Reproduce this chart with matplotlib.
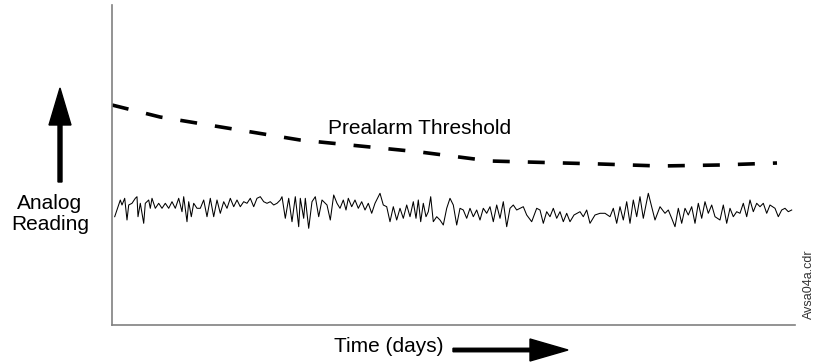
import matplotlib
matplotlib.use("Agg")
import matplotlib.pyplot as plt

plt.rcParams['font.family'] = ['Liberation Sans', 'DejaVu Sans']

# Threshold curve (time, reading) in arbitrary units
umbral_t = [0, 48, 188, 308, 378, 488, 548, 608, 665]
umbral_y = [220, 208, 185, 173, 164, 161, 159, 160, 162]

# Analog reading trace
lectura_t = [2.7, 8.3, 10, 12.7, 15, 16.7, 20, 23.3, 25, 26, 28.3, 31.7, 33.3, 36.7, 38.3, 40,
             43.3, 46.7, 50, 53.3, 56.7, 60, 63.3, 66.7, 70, 71.7, 75, 76.7, 79.3, 81.7, 85, 88.3,
             91.7, 95, 98.3, 101.7, 105, 108.3, 111.7, 115, 118.3, 121.7, 125, 128.3, 131.7, 135,
             138.3, 141.7, 145, 148.3, 151.7, 155, 158.3, 161.7, 165, 168.3, 170, 173.3, 176.7, 180,
             183.3, 186.7, 188.3, 191.7, 193.3, 196.7, 200, 203.3, 206.7, 210, 215, 218.3, 221.7,
             225, 228, 231.3, 234, 236.3, 239.7, 243, 246.3, 249.7, 253, 256.3, 259.7, 263, 268,
             271.3, 274.7, 278, 281.3, 284.7, 288, 291.3, 294.7, 298, 301.3, 304, 306.3, 308.7,
             311.3, 314, 316.3, 318.7, 321.3, 324.7, 328, 331.3, 334.7, 338, 341.3, 344.7, 348,
             351.3, 354.7, 358, 361.3, 364.7, 368, 371.3, 374.7, 378, 381.3, 384.7, 388, 391.3,
             394.7, 398, 401.3, 404.7, 408, 411.3, 414.7, 419.7, 424.7, 428, 431.3, 434.7, 438,
             441.3, 444.7, 448, 451.3, 454.7, 458, 462, 468, 471.3, 474.7, 478, 483, 488, 493, 498,
             501.3, 504.7, 508, 511.3, 514.7, 518, 521.3, 524.7, 528, 531.3, 536.3, 539.7, 543,
             548, 553, 556.3, 559.7, 563, 566.3, 569.7, 573, 576.3, 579.7, 583, 586.3, 589.7, 593,
             596.3, 599.7, 603, 608, 611.3, 614.7, 618, 621.3, 624.7, 628, 631.3, 634.7, 638,
             641.3, 644.7, 648, 651.3, 654.7, 658, 663, 666.3, 669.7, 673, 676.3, 679.7]
lectura_y = [108.3, 125, 120, 126.7, 105, 120, 121.7, 126.7, 128.3, 108.3, 121.7, 101.7, 121.7,
             125, 116.7, 126.7, 116.7, 121.7, 116.7, 121.7, 116.7, 123.3, 116.7, 126.7, 113.3,
             128.3, 103.3, 123.3, 108.3, 121.7, 116.7, 116.7, 125, 108.3, 126.7, 108.3, 125, 111.7,
             123.3, 116.7, 126.7, 118.3, 125, 118.3, 123.3, 121.7, 126.7, 118.3, 126.7, 128.3,
             123.3, 121.7, 123.3, 120, 121.7, 125, 128.3, 106.7, 126.7, 103.3, 128.3, 98.3, 126.7,
             106.7, 126.7, 96.7, 123.3, 128.3, 108.3, 125, 120, 105, 130, 121.7, 116.7, 125, 115,
             126.7, 118.3, 125, 116.7, 123.3, 115, 121.7, 111.7, 121.7, 131.7, 120, 118.3, 103.3,
             118.3, 105, 116.7, 106.7, 120, 108.3, 123.3, 106.7, 125, 103.3, 121.7, 108.3, 113.3,
             128.3, 103.3, 108.3, 105, 100, 116.7, 126.7, 120, 100, 116.7, 115, 106.7, 116.7,
             108.3, 115, 105, 116.7, 111.7, 118.3, 103.3, 120, 106.7, 123.3, 98.3, 116.7, 120, 115,
             116.7, 118.3, 110, 103.3, 116.7, 115, 101.7, 113.3, 108.3, 116.7, 106.7, 113.3, 103.3,
             111.7, 103.3, 110, 113.3, 108.3, 115, 101.7, 110, 111.7, 111.7, 108.3, 116.7, 101.7,
             118.3, 105, 123.3, 101.7, 125, 108.3, 128.3, 106.7, 131.7, 118.3, 105, 118.3, 111.7,
             115, 106.7, 98.3, 116.7, 101.7, 116.7, 110, 118.3, 101.7, 121.7, 106.7, 123.3, 111.7,
             120, 108.3, 105, 120, 101.7, 116.7, 108.3, 113.3, 111.7, 121.7, 108.3, 125, 113.3,
             121.7, 118.3, 121.7, 111.7, 120, 116.7, 108.3, 115, 116.7, 113.3, 115]

fig = plt.figure(figsize=(8.17, 3.64), dpi=100)
ax = fig.add_axes([112 / 817, 39 / 364, 683 / 817, 320 / 364])

ax.plot(umbral_t, umbral_y, color="black", lw=2.6, linestyle=(0, (4.7, 5.0)),
        solid_capstyle="butt", dash_capstyle="butt")
ax.plot(lectura_t, lectura_y, color="black", lw=0.75)
ax.text(308, 197, "Prealarm Threshold", fontsize=15, ha="center", va="center")

ax.set_xlim(0, 683)
ax.set_ylim(0, 320)
ax.set_xticks([])
ax.set_yticks([])
for lado in ["top", "right"]:
    ax.spines[lado].set_visible(False)
for lado in ["left", "bottom"]:
    ax.spines[lado].set_color("#808080")
    ax.spines[lado].set_linewidth(1.2)

# Etiquetas y flechas fuera de los ejes (coordenadas de figura)
fig.text(50 / 817, 1 - 214 / 364, "Analog\nReading", fontsize=15, ha="center", va="center",
         linespacing=1.15)
fig.text(389 / 817, 1 - 346 / 364, "Time (days)", fontsize=15, ha="center", va="center")
fig.patches.append(matplotlib.patches.FancyArrow(
    60 / 817, 1 - 182 / 364, 0, 94 / 364, width=4 / 817, head_width=22 / 817,
    head_length=37 / 364, length_includes_head=True, color="black",
    transform=fig.transFigure, figure=fig))
fig.patches.append(matplotlib.patches.FancyArrow(
    453 / 817, 1 - 350 / 364, 115 / 817, 0, width=3.5 / 364, head_width=22 / 364,
    head_length=38 / 817, length_includes_head=True, color="black",
    transform=fig.transFigure, figure=fig))
fig.text(809 / 817, 1 - 284 / 364, "Avsa04a.cdr", fontsize=9, rotation=90,
         ha="center", va="center", color="#333333")

fig.savefig("out.png", dpi=100)
